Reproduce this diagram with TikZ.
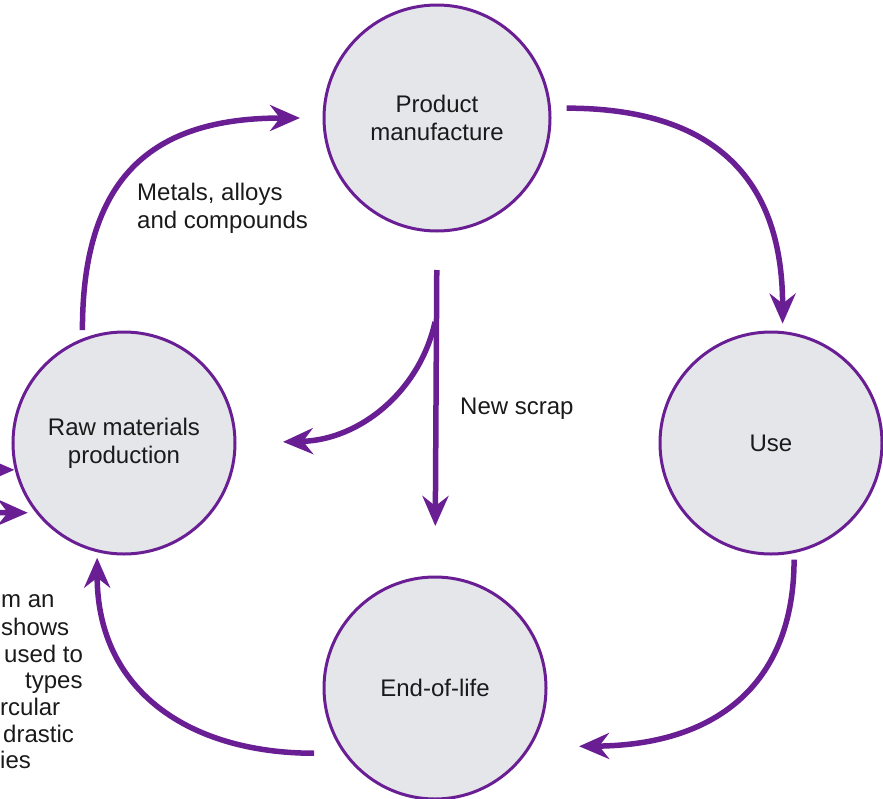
\documentclass[tikz,border=0pt]{standalone}
\usepackage{fontspec}
\setmainfont{Liberation Sans}
\usepackage{xcolor}
\usetikzlibrary{arrows.meta}

\definecolor{cyclepurple}{RGB}{106,30,148}
\definecolor{stagegray}{RGB}{229,230,234}
\definecolor{inkblack}{RGB}{26,26,26}

\begin{document}
\begin{tikzpicture}[x=1pt, y=-1pt,
  stage/.style={circle, draw=cyclepurple, line width=3pt, fill=stagegray, outer sep=0pt,
    minimum size=222pt, align=center, text=inkblack, font=\fontsize{24}{28}\selectfont},
  flow/.style={draw=cyclepurple, line width=5.5pt,
    -{Stealth[length=30pt, width=26pt, inset=10pt]}},
  lbl/.style={inner sep=0pt, align=left, text=inkblack, font=\fontsize{24}{28}\selectfont}]
\clip (0,0) rectangle (883,798);

% the four stages
\node[stage, minimum size=226pt] (pm) at (437,118) {Product\\manufacture};
\node[stage] (raw) at (124,443) {Raw materials\\production};
\node[stage] (use) at (771,443) {Use};
\node[stage] (eol) at (435,688) {End-of-life};

% main cycle
\draw[flow, shorten <=10pt, shorten >=24pt]
  (raw.112) .. controls +(0,-171) and +(-164,0) .. (pm.west);
\draw[flow, shorten <=17pt, shorten >=9pt]
  (pm.5) .. controls +(160,0) and +(0,-158) .. (use.84);
\draw[flow, shorten <=8pt, shorten >=50pt]
  (use.-78) .. controls +(0,128) and +(192,-2) .. (eol.-32.4);
\draw[flow, shorten <=31pt, shorten >=7pt]
  (eol.216) .. controls +(-156,0) and +(0,140) .. (raw.-104);

% new scrap
\draw[flow, shorten <=39pt, shorten >=51pt] (pm.south) -- (eol.north);
\coordinate (split) at (435,322);
\draw[flow, shorten >=48pt]
  (split) .. controls +(-15,68) and +(126,-3) .. (raw.east);

% inputs from the left edge
\coordinate (inA) at (-60,470);
\coordinate (inB) at (-60,512);
\draw[flow, shorten >=2pt] (inA) -- (raw.194);
\draw[flow, shorten >=10pt] (inB) -- (raw.219);

% labels
\node[lbl, anchor=west] (metals) at (137,208) {Metals, alloys\\and compounds};
\node[lbl, anchor=west] (scrap) at (460,409) {New scrap};

% cut-off caption
\foreach \xx/\yy/\t in {1/607/m an, 1/635/shows, 4/662/used to, 25/688/types,
    0/715/rcular, 3/742/drastic, 0/768/ies}
  \node[lbl, anchor=base west] at (\xx,\yy) {\t};
\end{tikzpicture}
\end{document}
